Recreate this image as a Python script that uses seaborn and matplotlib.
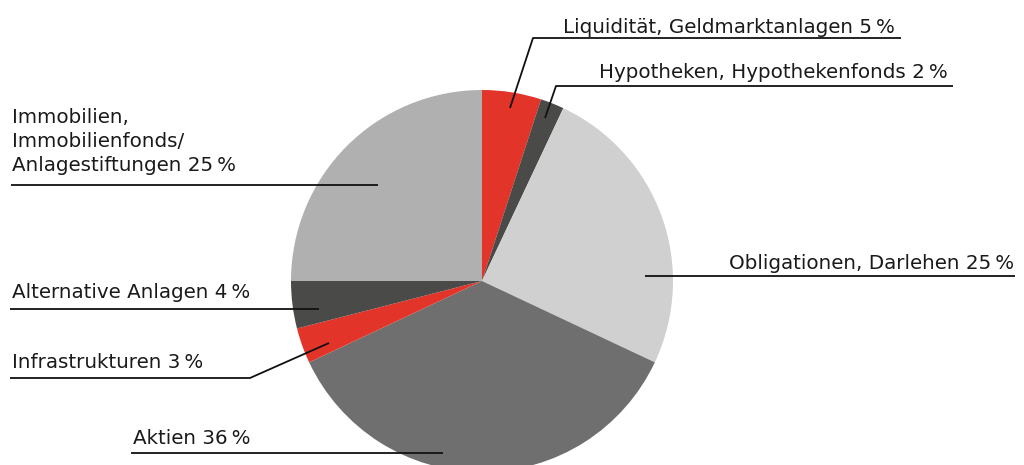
import matplotlib
matplotlib.use("Agg")
import matplotlib.pyplot as plt
import seaborn as sns

# ---- data ----
categories = [
    "Liquidität, Geldmarktanlagen",
    "Hypotheken, Hypothekenfonds",
    "Obligationen, Darlehen",
    "Aktien",
    "Infrastrukturen",
    "Alternative Anlagen",
    "Immobilien,\nImmobilienfonds/\nAnlagestiftungen",
]
shares = [5, 2, 25, 36, 3, 4, 25]
colors = ["#e3342a", "#4a4a48", "#d0d0d0", "#6f6f6f", "#e3342a", "#4a4a48", "#b0b0b0"]

# ---- layout (pixel coords, y from top), same order as categories ----
W, H = 1024, 465
center_px = (482, 281)
radius_px = 191
label_text_pos = [(563, 33), (599, 78), (729, 269), (133, 444), (12, 368), (12, 298), (12, 171)]
leader_lines = [
    [(901, 38), (533, 38), (510, 108)],
    [(953, 86), (556, 86), (545, 118)],
    [(1015, 276), (645, 276)],
    [(131, 453), (443, 453)],
    [(10, 378), (250, 378), (329, 343)],
    [(10, 309), (319, 309)],
    [(11, 185), (378, 185)],
]

sns.set_theme(style="white")
plt.rcParams["font.family"] = ["DejaVu Sans"]

fig = plt.figure(figsize=(W / 100, H / 100), dpi=100)
ax = fig.add_axes([0, 0, 1, 1])

ax.pie(shares, colors=colors, startangle=90, counterclock=False,
       center=(center_px[0], H - center_px[1]), radius=radius_px,
       wedgeprops=dict(linewidth=0), frame=True)
ax.set_xlim(0, W)
ax.set_ylim(0, H)
ax.set_aspect("equal")
ax.axis("off")

for cat, val, (tx, ty), line in zip(categories, shares, label_text_pos, leader_lines):
    xs = [p[0] for p in line]
    ys = [H - p[1] for p in line]
    ax.plot(xs, ys, color="#111111", lw=1.3, solid_capstyle="butt", zorder=5)
    ax.text(tx, H - ty, f"{cat} {val}\u2009%", fontsize=14.3, color="#1a1a1a",
            ha="left", va="baseline", linespacing=1.32, zorder=6)

fig.savefig("out.png", dpi=100)
